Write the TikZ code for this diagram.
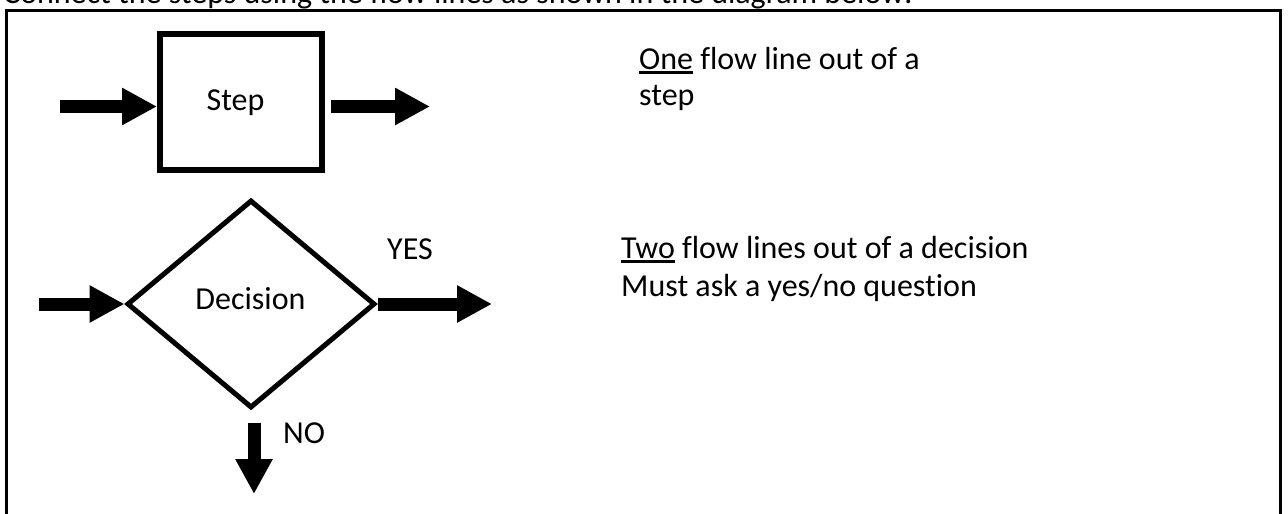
\documentclass[tikz,border=0pt]{standalone}
\usepackage{fontspec}
\setmainfont{Carlito}[Ligatures=CommonOff]
\usetikzlibrary{arrows.meta,shapes.geometric}
\newcommand\myul[1]{\setbox0\hbox{#1}\rlap{\rule[-4.5pt]{\wd0}{2.5pt}}\box0\relax}
\begin{document}
\begin{tikzpicture}[x=1pt,y=-1pt,
  every node/.style={font=\fontsize{32}{38}\selectfont, inner sep=0pt},
  flow/.style={line width=13pt, -{Triangle[length=35pt,width=35pt]}},
  stepbox/.style={draw, line width=6pt, minimum width=162pt, minimum height=136pt},
  decbox/.style={diamond, draw, line width=5pt, minimum width=248pt, minimum height=208pt},
  frame/.style={draw, line width=3pt}]
\path[use as bounding box, clip] (0,0) rectangle (1288,514);
\fill[white] (0,0) rectangle (1288,514);
% header (cut off at top, as in the reference)
\node[anchor=base west] (hdr) at (3,4) {Connect the steps using the flow lines as shown in the diagram below:};
% frame
\draw[frame] (6,10.5) rectangle (1280,530);
% step
\node[stepbox] (step) at (241,102) {};
\node[anchor=base] (steptxt) at (235.5,110) {Step};
\coordinate (stepin) at (60,106.5);
\coordinate (stepout) at (430,106.5);
\draw[flow] (stepin) -- (stepin -| step.west);
\draw[flow, shorten <=6pt] (stepout -| step.east) -- (stepout);
% decision
\node[decbox] (dec) at (251,304) {};
\node[anchor=base] (dectxt) at (250.5,309) {Decision};
\coordinate (decin) at (39,304);
\coordinate (yesend) at (492,304);
\coordinate (noend) at (254,494);
\draw[flow] (decin) -- (dec.west);
\draw[flow] (dec.east) -- (yesend);
\draw[flow, shorten <=12pt] (dec.south -| noend) -- (noend);
\node[anchor=base] (yes) at (410,259) {YES};
\node[anchor=base] (no) at (304,443) {NO};
% right texts
\node[anchor=base west] (r1) at (639,69) {\myul{One} flow line out of a};
\node[anchor=base west] (r2) at (639,105) {step};
\node[anchor=base west] (r3) at (621,258) {\myul{Two} flow lines out of a decision};
\node[anchor=base west] (r4) at (621,296) {Must ask a yes/no question};
\end{tikzpicture}
\end{document}
